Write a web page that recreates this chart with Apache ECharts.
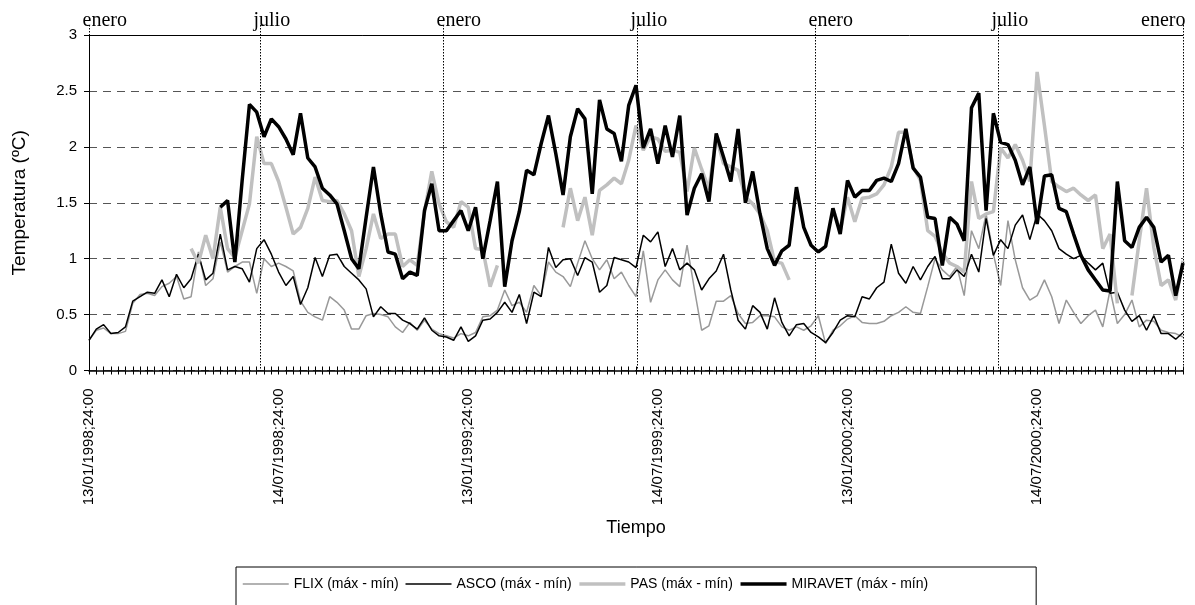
<!DOCTYPE html>
<html><head><meta charset="utf-8">
<script src="https://cdn.jsdelivr.net/npm/echarts@6/dist/echarts.min.js"></script>
<style>html,body{margin:0;padding:0;background:#fff}#c{width:1195px;height:605px}</style>
</head><body><div id="c"></div>
<script>
// ---- data ----
const tickLabels = ['13/01/1998;24:00','14/07/1998;24:00','13/01/1999;24:00','14/07/1999;24:00','13/01/2000;24:00','14/07/2000;24:00'];
const tickEvery = 26;
const seriesNames = ['FLIX (máx - mín)','ASCO (máx - mín)','PAS (máx - mín)','MIRAVET (máx - mín)'];

const flix = [
0.27,0.36,0.38,0.33,0.33,0.35,0.60,0.68,0.69,0.67,
0.75,0.78,0.84,0.64,0.66,1.06,0.76,0.82,1.15,0.88,
0.93,0.97,0.97,0.69,1.00,0.93,0.96,0.93,0.89,0.62,
0.52,0.48,0.45,0.66,0.61,0.54,0.37,0.37,0.49,0.51,
0.50,0.48,0.39,0.34,0.43,0.36,0.45,0.37,0.33,0.31,
0.29,0.33,0.31,0.34,0.48,0.49,0.54,0.72,0.58,0.61,
0.52,0.76,0.67,0.97,0.88,0.84,0.75,0.96,1.16,1.00,
0.90,0.99,0.82,0.88,0.76,0.66,1.07,0.61,0.81,0.90,
0.81,0.75,1.12,0.73,0.36,0.40,0.62,0.62,0.67,0.51,
0.42,0.43,0.49,0.49,0.48,0.39,0.36,0.39,0.36,0.40,
0.49,0.24,0.36,0.40,0.46,0.49,0.43,0.42,0.42,0.44,
0.49,0.52,0.57,0.52,0.51,0.75,1.00,0.90,0.84,0.93,
0.67,1.25,1.09,1.40,1.04,0.76,1.34,0.99,0.74,0.63,
0.67,0.81,0.66,0.42,0.63,0.52,0.42,0.49,0.54,0.39,
0.72,0.42,0.50,0.63,0.39,0.45,0.44,0.36,0.34,0.33,
0.30];

const asco = [
0.27,0.37,0.41,0.33,0.34,0.39,0.62,0.66,0.70,0.69,
0.81,0.66,0.86,0.74,0.82,1.04,0.81,0.87,1.22,0.90,
0.93,0.91,0.79,1.09,1.17,1.04,0.88,0.76,0.84,0.59,
0.74,1.01,0.84,1.03,1.04,0.93,0.87,0.81,0.73,0.48,
0.57,0.51,0.51,0.45,0.42,0.37,0.47,0.36,0.31,0.30,
0.27,0.39,0.26,0.31,0.45,0.46,0.52,0.61,0.52,0.68,
0.42,0.70,0.66,1.10,0.92,0.99,1.00,0.85,1.01,0.97,
0.70,0.76,1.01,0.99,0.97,0.92,1.21,1.15,1.24,0.93,
1.09,0.90,0.96,0.90,0.72,0.82,0.89,1.04,0.72,0.45,
0.37,0.58,0.52,0.37,0.65,0.43,0.31,0.41,0.42,0.34,
0.30,0.25,0.34,0.45,0.49,0.48,0.66,0.64,0.74,0.79,
1.13,0.87,0.78,0.93,0.81,0.93,1.02,0.82,0.82,0.90,
0.84,1.04,0.88,1.36,1.03,1.17,1.09,1.30,1.39,1.17,
1.40,1.34,1.25,1.09,1.04,1.00,1.03,0.96,0.90,0.96,
0.69,0.70,0.54,0.44,0.49,0.36,0.49,0.33,0.33,0.28,
0.34];

const pas = [
null,null,null,null,null,null,null,null,null,null,
null,null,null,null,1.09,0.96,1.21,1.00,1.46,1.09,
1.01,1.25,1.49,2.09,1.85,1.85,1.69,1.46,1.22,1.28,
1.45,1.73,1.52,1.51,1.52,1.40,1.25,0.84,1.09,1.40,
1.18,1.22,1.22,0.93,0.99,0.94,1.42,1.78,1.49,1.33,
1.28,1.51,1.46,1.09,1.08,0.75,0.94,null,null,null,
null,null,null,null,null,1.28,1.63,1.34,1.55,1.21,
1.61,1.66,1.72,1.67,1.88,2.19,1.97,2.09,2.07,1.96,
1.97,1.95,1.60,1.99,1.80,1.62,2.09,1.85,1.82,1.79,
1.55,1.49,1.40,1.25,0.97,0.96,0.81,null,null,null,
null,null,1.45,1.25,1.55,1.33,1.54,1.55,1.58,1.66,
1.82,2.13,2.13,1.82,1.70,1.25,1.20,1.05,0.96,0.93,
0.88,1.69,1.36,1.40,1.42,1.99,1.90,2.02,1.88,1.69,
2.67,2.19,1.69,1.64,1.60,1.63,1.57,1.52,1.57,1.09,
1.22,0.60,null,0.67,1.16,1.63,1.10,0.76,0.81,0.63,
0.98];

const miravet = [
null,null,null,null,null,null,null,null,null,null,
null,null,null,null,null,null,null,null,1.46,1.52,
0.97,1.70,2.38,2.31,2.09,2.25,2.18,2.07,1.93,2.30,
1.90,1.82,1.63,1.57,1.49,1.25,1.00,0.91,1.37,1.82,
1.40,1.06,1.04,0.82,0.88,0.85,1.43,1.67,1.25,1.25,
1.34,1.43,1.25,1.46,1.00,1.34,1.69,0.75,1.16,1.42,
1.79,1.75,2.03,2.28,1.94,1.57,2.09,2.34,2.25,1.58,
2.42,2.16,2.12,1.87,2.37,2.55,1.99,2.16,1.85,2.19,
1.91,2.28,1.39,1.63,1.76,1.51,2.12,1.91,1.69,2.16,
1.50,1.78,1.40,1.09,0.94,1.07,1.12,1.64,1.28,1.12,
1.06,1.11,1.45,1.22,1.70,1.55,1.61,1.61,1.70,1.72,
1.69,1.85,2.16,1.81,1.73,1.37,1.36,0.94,1.37,1.31,
1.16,2.35,2.48,1.43,2.30,2.04,2.02,1.88,1.66,1.82,
1.31,1.74,1.75,1.45,1.42,1.22,1.03,0.90,0.81,0.72,
0.71,1.69,1.16,1.10,1.28,1.37,1.28,0.97,1.03,0.67,
0.96];

// month annotations (position in weeks from the first date)
const monthMarks = [
  {name:'enero', at:0}, {name:'julio', at:23.5}, {name:'enero', at:48.6},
  {name:'julio', at:75.2}, {name:'enero', at:99.6}, {name:'julio', at:124.7},
  {name:'enero', at:150, right:true}
];

// weekly categories starting 13/01/1998
const t0 = Date.UTC(1998,0,13);
const categories = flix.map((_, i) => new Date(t0 + i*7*86400000).toISOString().slice(0,10));

const FONT = '"Liberation Sans", Arial, sans-serif';
const styles = [
  {color:'#999999', width:1.5},
  {color:'#000000', width:1.5},
  {color:'#c0c0c0', width:3.5},
  {color:'#000000', width:3.5}
];
const chart = echarts.init(document.getElementById('c'), null, {renderer:'canvas'});

function mk(k, data, extra) {
  return Object.assign({
    name:seriesNames[k], type:'line', data, xAxisIndex:0, yAxisIndex:0,
    symbol:'none', showSymbol:false, connectNulls:false,
    lineStyle:{color:styles[k].color, width:styles[k].width}, itemStyle:{color:styles[k].color},
    emphasis:{disabled:true}, silent:true
  }, extra||{});
}

const option = {
  animation:false,
  backgroundColor:'#fff',
  grid:{left:89, right:12, top:35, bottom:234.5, containLabel:false},
  legend:{
    left:236, top:567, itemWidth:46, itemHeight:12, itemGap:6,
    borderColor:'#000', borderWidth:1, borderRadius:0, padding:[10,108,20,6],
    textStyle:{fontSize:14, color:'#000', fontFamily:FONT},
    selectedMode:false,
    data:seriesNames.map((n,k)=>({name:n, itemStyle:{opacity:0},
      lineStyle:{color:styles[k].color, width:styles[k].width}}))
  },
  xAxis:[
    {type:'category', data:categories, boundaryGap:false, position:'bottom',
     axisLine:{lineStyle:{color:'#000', width:1.5}},
     axisTick:{show:true, interval:0, length:4, lineStyle:{color:'#000'}},
     axisLabel:{interval:tickEvery-1, rotate:90, margin:18, color:'#000', fontSize:15, fontFamily:FONT,
       formatter:(v,i)=> (i % tickEvery === 0 && tickLabels[i/tickEvery]) ? tickLabels[i/tickEvery] : ''},
     splitLine:{show:false},
     name:'Tiempo', nameLocation:'middle', nameGap:149,
     nameTextStyle:{fontSize:18, color:'#000', fontFamily:FONT}},
    {type:'category', data:categories, boundaryGap:false, position:'bottom',
     axisLine:{show:false}, axisLabel:{show:false}, splitLine:{show:false},
     axisTick:{show:true, inside:true, interval:0, length:4, lineStyle:{color:'#000'}}},
    {type:'value', min:0, max:150, show:false}
  ],
  yAxis:{type:'value', min:0, max:3, interval:0.5,
    axisLine:{show:true, lineStyle:{color:'#000', width:1}},
    axisTick:{show:true, length:5, lineStyle:{color:'#000'}},
    axisLabel:{color:'#000', fontSize:15, margin:12, fontFamily:FONT},
    splitLine:{show:true, lineStyle:{color:'#555', type:[8,6], width:1}},
    name:'Temperatura (ºC)', nameLocation:'middle', nameGap:60, nameRotate:90,
    nameTextStyle:{fontSize:19, color:'#000', fontFamily:FONT}
  },
  series:[
    mk(0, flix),
    mk(1, asco, {
      markLine:{silent:true, symbol:['none','none'], label:{show:false},
        lineStyle:{color:'#000', type:'solid', width:1}, data:[{yAxis:3}]}
    }),
    mk(2, pas),
    mk(3, miravet)
  ]
};
chart.setOption(option);

const yTop = chart.convertToPixel({yAxisIndex:0}, 3);
const yBot = chart.convertToPixel({yAxisIndex:0}, 0);
const g = [];
monthMarks.forEach(m => {
  const x = Math.round(chart.convertToPixel({xAxisIndex:2}, m.at)) + 0.5;
  g.push({type:'line', silent:true, z:50,
    shape:{x1:x, y1:yTop - 10, x2:x, y2:yBot},
    style:{stroke:'#000', lineWidth:1, lineDash:[1.5,1.5]}});
  g.push({type:'text', silent:true, z:50,
    x: m.right ? x + 2 : x - 7, y: 21,
    style:{text:m.name, fontSize:20, fontFamily:'"Liberation Serif", "Times New Roman", serif',
      fill:'#000', align: m.right ? 'right' : 'left', verticalAlign:'middle'}});
});
chart.setOption({graphic:g});
</script></body></html>
